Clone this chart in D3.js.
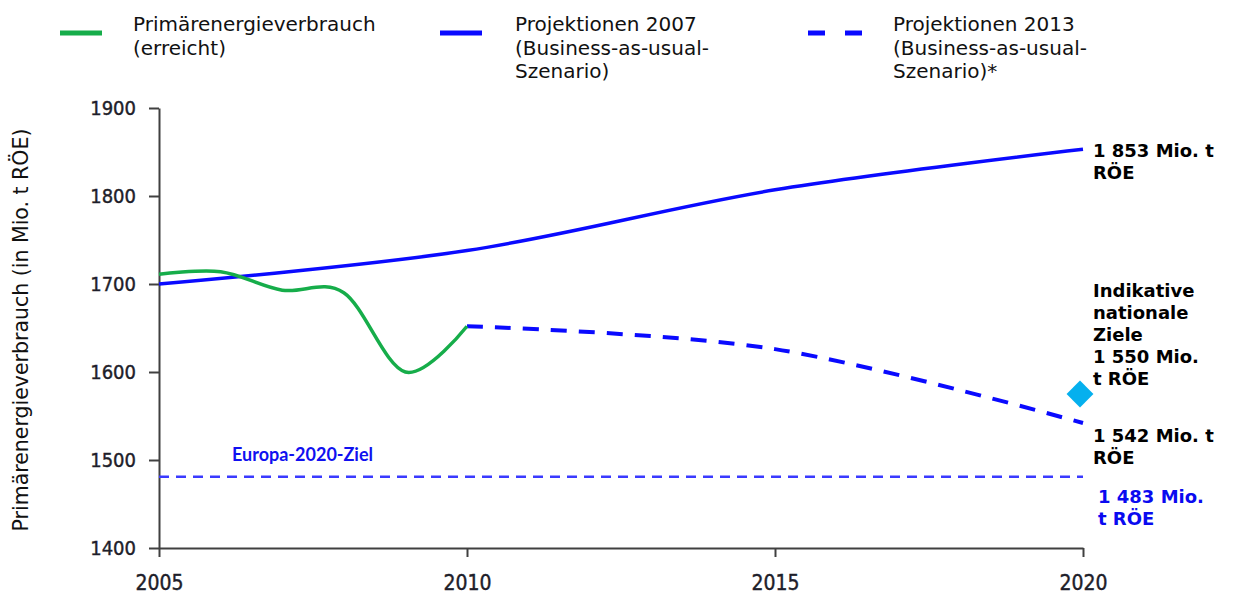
<!DOCTYPE html>
<html><head><meta charset="utf-8">
<script src="https://cdn.jsdelivr.net/npm/d3@7"></script>
<style>
html,body{margin:0;padding:0;background:#fff;}
svg{display:block;}
</style></head>
<body><svg id="c" width="1233" height="600"></svg>
<script>
// ---- data ----
const years = [2005, 2006, 2007, 2008, 2009, 2010];
const verbrauch = [1711, 1714, 1693, 1690, 1600, 1652];
const projYears2007 = [2005, 2010, 2015, 2020];
const proj2007 = [1700, 1738, 1807, 1853];
const projYears2013 = [2010, 2015, 2020];
const proj2013 = [1652, 1626, 1542];
const europaZiel = 1481;
const zielYear = 2020;
const nationalZiel = 1575;
const xTicks = [2005, 2010, 2015, 2020];
const yTicks = [1400, 1500, 1600, 1700, 1800, 1900];
const legendLabels = [
  ["Primärenergieverbrauch", "(erreicht)"],
  ["Projektionen 2007", "(Business-as-usual-", "Szenario)"],
  ["Projektionen 2013", "(Business-as-usual-", "Szenario)*"]
];
const yTitle = "Primärenergieverbrauch (in Mio. t RÖE)";
const europaLabel = "Europa-2020-Ziel";
const annot1853 = ["1 853 Mio. t", "RÖE"];
const annotZiele = ["Indikative", "nationale", "Ziele", "1 550 Mio.", "t RÖE"];
const annot1542 = ["1 542 Mio. t", "RÖE"];
const annot1483 = ["1 483 Mio.", "t RÖE"];

// ---- colors ----
const GREEN = "#16ad4a", BLUE = "#0a0aff", CYAN = "#05b0ee", EBLUE = "#3a3aff";

const svg = d3.select("#c");
const x = d3.scaleLinear().domain([2005, 2020]).range([159, 1083]);
const y = d3.scaleLinear().domain([1400, 1900]).range([548, 108]);

// axes
const axisCol = "#404040";
const yAxis = svg.append("g").attr("transform", `translate(${x(2005)},0)`)
  .call(d3.axisLeft(y).tickValues(yTicks).tickSize(10).tickSizeOuter(0).tickPadding(13).tickFormat(d3.format("d")));
const xAxis = svg.append("g").attr("transform", `translate(0,${y(1400)})`)
  .call(d3.axisBottom(x).tickValues(xTicks).tickSize(9).tickSizeOuter(0).tickPadding(18).tickFormat(d3.format("d")));
[yAxis, xAxis].forEach(a => {
  a.select(".domain").attr("stroke", axisCol).attr("stroke-width", 2);
  a.selectAll(".tick line").attr("stroke", axisCol).attr("stroke-width", 2);
  a.selectAll("text").attr("fill", "#1e1e2a").attr("stroke", "#1e1e2a").attr("stroke-width", 0.4)
    .style("font-family", "'DejaVu Sans Condensed','DejaVu Sans',sans-serif");
});
yAxis.selectAll("text").style("font-size", "20px");
xAxis.selectAll("text").style("font-size", "21px");

// y title
svg.append("text").attr("transform", `translate(28,${(y(1400)+y(1900))/2 + 2}) rotate(-90)`)
  .attr("text-anchor", "middle").style("font-family", "'DejaVu Sans',sans-serif")
  .style("font-size", "20.5px").attr("fill", "#111").text(yTitle);

// Europa line
svg.append("line").attr("x1", x(2005)).attr("x2", x(2020)).attr("y1", y(europaZiel)).attr("y2", y(europaZiel))
  .attr("stroke", EBLUE).attr("stroke-width", 2.5).attr("stroke-dasharray", "10,7");
svg.append("text").attr("x", 232).attr("y", y(europaZiel) - 16).attr("fill", "#1010f0")
  .style("font-family", "Lato,'Open Sans',sans-serif").style("font-weight", "bold").style("font-size", "18px")
  .text(europaLabel);

const curve = d3.curveCardinal.tension(0);
const line = d3.line().x(d => x(d[0])).y(d => y(d[1])).curve(curve);

svg.append("path").datum(projYears2007.map((yr, i) => [yr, proj2007[i]]))
  .attr("d", line).attr("fill", "none").attr("stroke", BLUE).attr("stroke-width", 3.5);
svg.append("path").datum(projYears2013.map((yr, i) => [yr, proj2013[i]]))
  .attr("d", line).attr("fill", "none").attr("stroke", BLUE).attr("stroke-width", 4)
  .attr("stroke-dasharray", "16,12");
svg.append("path").datum(years.map((yr, i) => [yr, verbrauch[i]]))
  .attr("d", line).attr("fill", "none").attr("stroke", GREEN).attr("stroke-width", 3.5);

// diamond
svg.append("path").attr("d", d3.symbol(d3.symbolDiamond2, 460)())
  .attr("transform", `translate(${x(zielYear) - 3},${y(nationalZiel)})`).attr("fill", CYAN);

// annotations
function block(lines, x0, yBase, color) {
  const t = svg.append("text").attr("x", x0).attr("y", yBase).attr("fill", color)
    .style("font-family", "'DejaVu Sans',sans-serif").style("font-weight", "bold").style("font-size", "18px");
  lines.forEach((s, i) => t.append("tspan").attr("x", x0).attr("dy", i === 0 ? 0 : 22).text(s));
}
const ax = x(2020) + 10;
block(annot1853, ax, 157, "#000");
block(annotZiele, ax, 297, "#000");
block(annot1542, ax, 442, "#000");
block(annot1483, ax + 5, 503, "#0a0af0");

// legend
const legX = [60, 440, 808], legTx = [133, 515, 893];
legendLabels.forEach((lines, i) => {
  const g = svg.append("g");
  const l = g.append("line").attr("x1", legX[i]).attr("x2", legX[i] + (i === 2 ? 54 : 42))
    .attr("y1", 33).attr("y2", 33).attr("stroke-width", 5)
    .attr("stroke", i === 0 ? GREEN : BLUE);
  if (i === 2) l.attr("stroke-dasharray", "17,20");
  const t = g.append("text").attr("x", legTx[i]).attr("y", 31).attr("fill", "#111")
    .style("font-family", "'DejaVu Sans',sans-serif").style("font-size", "20px");
  lines.forEach((s, k) => t.append("tspan").attr("x", legTx[i]).attr("dy", k === 0 ? 0 : 23.5).text(s));
});
</script></body></html>
